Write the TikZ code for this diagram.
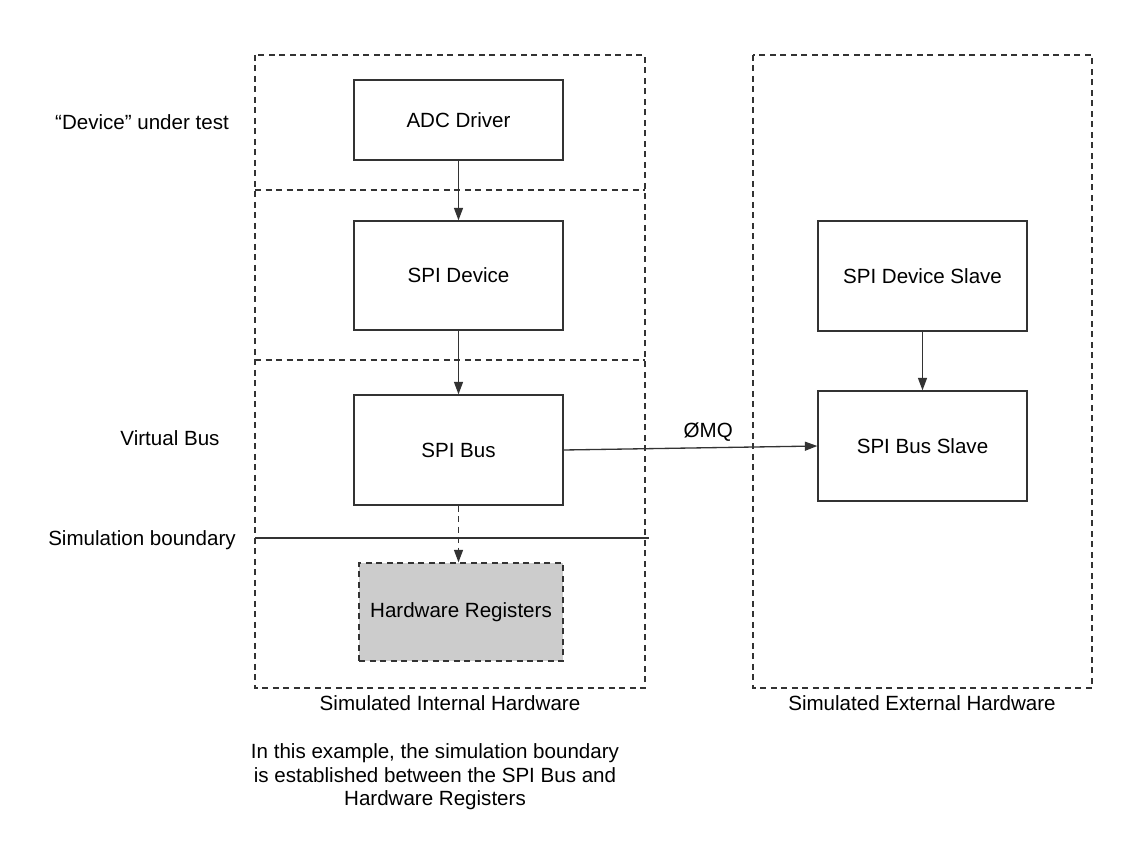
\documentclass[tikz,border=0pt]{standalone}
\usepackage{fontspec}
\setmainfont{Liberation Sans}
\usepackage{tikz}
\usetikzlibrary{arrows.meta}

\definecolor{linegray}{HTML}{333333}

\begin{document}
\begin{tikzpicture}[line width=0.75pt, draw=linegray, font=\fontsize{11.7pt}{13.4pt}\selectfont,
    main/.style = {draw, rectangle, minimum width=4.18cm, minimum height=2.2cm},
    dashline/.style = {dash pattern=on 0.12cm off 0.09cm},
    tip/.style = {-{Triangle[length=2.5mm, width=1.8mm]}}]
\useasboundingbox (0,0) rectangle (22.72,-17.12);

    % areas
    \draw[dashline] (5.1,-1.1) rectangle (12.9,-13.76);
    \draw[dashline] (15.06,-1.1) rectangle (21.84,-13.76);
    \draw[dashline] (5.1,-3.8) -- (12.9,-3.8);
    \draw[dashline] (5.1,-7.2) -- (12.9,-7.2);
    \draw (5.1,-10.76) -- (12.98,-10.76);

    \node[main, minimum height=1.6cm] (adc) at (9.17,-2.4) {ADC Driver};
    \node[main, minimum height=2.18cm] (spidev) at (9.17,-5.51) {SPI Device};
    \node[main] (spibus) at (9.17,-9.0) {SPI Bus};
    \node[main, dashline, fill={rgb,255:red,204;green,204;blue,204}, minimum width=4.08cm, minimum height=1.96cm] (hwreg) at (9.22,-12.24) {Hardware Registers};
    \node[main] (devslave) at (18.45,-5.52) {SPI Device Slave};
    \node[main] (busslave) at (18.45,-8.92) {SPI Bus Slave};

    \node (dut) at (2.84,-2.44) {“Device” under test};
    \node (vbus) at (3.4,-8.76) {Virtual Bus};
    \node (simb) at (2.84,-10.8) {Simulation boundary};
    \node (inthw) at (9.0,-14.06) {Simulated Internal Hardware};
    \node (exthw) at (18.44,-14.06) {Simulated External Hardware};
    \node[align=center] (note) at (8.7,-15.54) {In this example, the simulation boundary\\is established between the SPI Bus and\\Hardware Registers};

\draw[tip] (adc) -- (spidev);
\draw[tip] (spidev) -- (spibus);
\draw[tip, dashline] (spibus.south) -- (spibus.south |- hwreg.north);
\draw[tip] (devslave) -- (busslave);
\draw[tip] (spibus.east) -- (busslave.west) node[pos=0.57, above] {ØMQ};
\end{tikzpicture}
\end{document}
